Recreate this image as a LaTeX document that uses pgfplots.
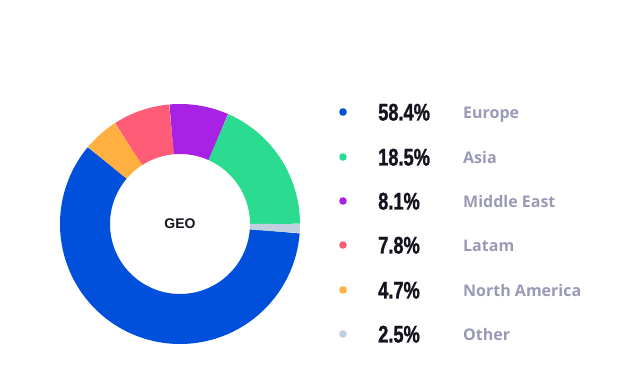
\documentclass[border=0pt]{standalone}
\usepackage{pgfplots}
\pgfplotsset{compat=1.18}
\usepgfplotslibrary{polar}
\usepackage{fontspec}
\setmainfont{Liberation Sans}
\newfontfamily\labfont{Open Sans}
\newfontfamily\pctfont[FakeBold=1.5]{Liberation Sans Bold}
\definecolor{cEur}{HTML}{0050DC}
\definecolor{cAsia}{HTML}{2BDC90}
\definecolor{cME}{HTML}{A822E6}
\definecolor{cLat}{HTML}{FF5C78}
\definecolor{cNA}{HTML}{FFB040}
\definecolor{cOth}{HTML}{C0D0E0}
\definecolor{cTxt}{HTML}{14141E}
\definecolor{cLab}{HTML}{9A9AB6}
\newcommand{\pct}[1]{\scalebox{0.76}[1]{\fontsize{24}{24}\pctfont #1}}
\newcommand{\lab}[1]{{\fontsize{16}{16}\labfont\bfseries #1}}
\begin{document}
\begin{tikzpicture}[x=1pt,y=1pt]
\useasboundingbox (0,0) rectangle (623,390);
\begin{polaraxis}[at={(180,166)}, anchor=origin, hide axis,
  scale only axis, width=240pt, height=240pt,
  xmin=0, xmax=360, ymin=0, ymax=120, clip=false]
\addplot[cAsia, line width=50pt, domain=0:66.3, samples=50, no markers] {95};
\addplot[cME, line width=50pt, domain=66.3:95.1, samples=30, no markers] {95};
\addplot[cLat, line width=50pt, domain=95.1:122.8, samples=30, no markers] {95};
\addplot[cNA, line width=50pt, domain=122.8:140.1, samples=20, no markers] {95};
\addplot[cEur, line width=50pt, domain=140.1:355.6, samples=150, no markers] {95};
\addplot[cOth, line width=50pt, domain=355.6:360, samples=5, no markers] {95};
\end{polaraxis}
\node[text=cTxt, font=\fontsize{14}{14}\selectfont\bfseries] at (180,166) {GEO};
\foreach \y/\c/\p/\l in {112/cEur/58.4\%/Europe, 157/cAsia/18.5\%/Asia, 201/cME/8.1\%/Middle East, 245/cLat/7.8\%/Latam, 290/cNA/4.7\%/North America, 334/cOth/2.5\%/Other}{
  \fill[\c] (343,390-\y) circle (3.8);
  \node[anchor=base west, inner sep=0, text=cTxt] at (378,390-\y-8.5) {\pct{\p}};
  \node[anchor=base west, inner sep=0, text=cLab] at (463,390-\y-6.3) {\lab{\l}};
}
\end{tikzpicture}
\end{document}
